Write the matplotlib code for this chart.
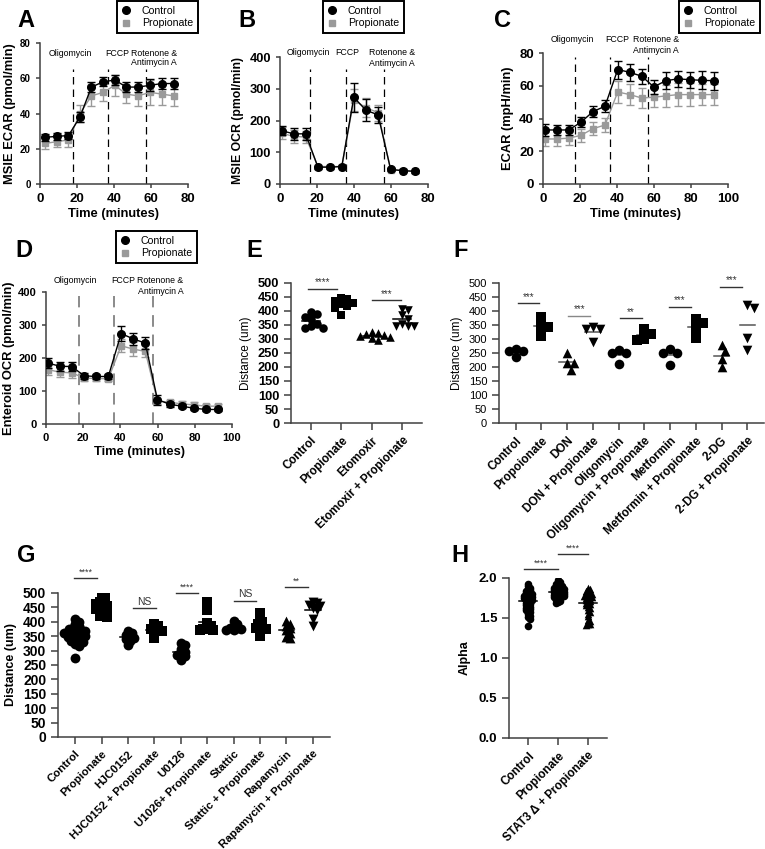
import numpy as np
import matplotlib
matplotlib.use('Agg')
import matplotlib.pyplot as plt
from matplotlib.lines import Line2D

plt.rcParams['font.family'] = ['Liberation Sans', 'DejaVu Sans']

W, H = 765, 849
GRAY = '#9a9a9a'
SPINE = '#404040'

# ---- seahorse time courses ----
time_a = [2.6, 9.0, 15.4, 21.6, 27.8, 34.2, 40.4, 46.7, 53.0, 59.5, 65.9, 72.3]
ecar_a_ctrl = [26.5, 27, 27.5, 38, 55, 58, 59, 55, 55, 56, 57, 57]
ecar_a_ctrl_err = [2, 2, 2, 3, 3, 2.5, 3, 3, 3, 3.5, 3, 3]
ecar_a_prop = [23, 24, 25, 40, 50, 52, 56, 51, 50, 52, 51, 50]
ecar_a_prop_err = [3, 3, 4, 5, 6, 5, 6, 5, 6, 7, 6, 6]

time_b = [1.0, 7.3, 13.9, 20.5, 26.8, 33.4, 39.9, 46.5, 53.0, 59.8, 66.3, 72.8]
ocr_b_ctrl = [168, 158, 158, 53, 53, 55, 273, 232, 218, 46, 42, 40]
ocr_b_ctrl_err = [15, 18, 18, 5, 5, 5, 45, 35, 25, 5, 5, 5]
ocr_b_prop = [160, 150, 148, 55, 55, 55, 265, 240, 225, 45, 42, 40]
ocr_b_prop_err = [18, 20, 20, 5, 5, 5, 35, 30, 25, 5, 5, 5]

time_cd = [0.9, 7.4, 13.9, 20.5, 27.0, 33.5, 40.4, 46.9, 53.4, 59.9, 66.4, 72.9, 79.4, 85.9, 92.4]
ecar_c_ctrl = [33, 33, 33, 37.7, 44.2, 47.5, 69.9, 68.2, 65.8, 59.3, 63.1, 64.2, 63.7, 63.3, 63.1]
ecar_c_ctrl_err = [3.5, 3, 3, 3, 3.5, 3.5, 5.5, 5, 4.5, 4.5, 5, 5, 5, 5.5, 5.5]
ecar_c_prop = [27.5, 27.5, 28, 29.7, 33.8, 36, 56.2, 54.6, 52.5, 53, 53.8, 54.6, 54.6, 54.6, 54.6]
ecar_c_prop_err = [4, 4, 4, 4, 4, 4.5, 7, 6.5, 6, 6, 6.5, 7, 7, 6.5, 6.5]

ocr_d_ctrl = [185, 175, 174, 146, 144, 144, 274, 258, 245, 74, 60, 54, 48, 44, 44]
ocr_d_ctrl_err = [15, 13, 13, 10, 8, 8, 22, 18, 18, 15, 8, 6, 5, 5, 5]
ocr_d_prop = [165, 157, 155, 139, 138, 137, 237, 227, 220, 70, 66, 61, 58, 54, 54]
ocr_d_prop_err = [15, 15, 15, 8, 8, 8, 20, 20, 18, 10, 8, 8, 8, 8, 8]

# ---- E: etomoxir ----
e_labels = ['Control', 'Propionate', 'Etomoxir', 'Etomoxir + Propionate']
e_control = [395, 390, 378, 370, 355, 345, 340, 340]
e_propionate = [448, 442, 435, 428, 425, 418, 412, 385]
e_etomoxir = [325, 322, 318, 316, 312, 308, 303, 295]
e_eto_prop = [408, 405, 385, 373, 352, 348, 345, 345]

# ---- F: metabolic inhibitors ----
f_labels = ['Control', 'Propoionate', 'DON', 'DON + Propionate', 'Oligomycin',
            'Oligomycin + Propionate', 'Metformin', 'Metformin + Propionate',
            '2-DG', '2-DG + Propionate']
f_control = [263, 257, 257, 237]
f_propionate = [378, 348, 342, 312]
f_don = [251, 215, 215, 191]
f_don_prop = [342, 335, 335, 288]
f_oligo = [261, 249, 249, 209]
f_oligo_prop = [335, 318, 300, 298]
f_metformin = [263, 249, 249, 207]
f_metformin_prop = [372, 356, 338, 303]
f_2dg = [279, 257, 227, 201]
f_2dg_prop = [422, 410, 303, 261]

# ---- G: signalling inhibitors ----
g_labels = ['Control', 'Propionate', 'HJC0152', 'HJC0152 + Propionate', 'U0126',
            'U1026+ Propionate', 'Stattic', 'Stattic + Propionate', 'Rapamycin',
            'Rapamycin + Propionate']
g_control = [410, 400, 392, 385, 380, 375, 372, 370, 368, 365, 362, 360,
             358, 355, 352, 350, 347, 343, 340, 335, 330, 322, 315, 275]
g_propionate = [498, 490, 480, 472, 468, 462, 458, 455, 450, 445, 440, 435,
                430, 425, 420, 415]
g_hjc = [368, 362, 355, 350, 345, 340, 332, 318]
g_hjc_prop = [392, 385, 378, 375, 370, 368, 360, 345]
g_u0126 = [328, 318, 305, 295, 290, 285, 280, 268]
g_u0126_prop = [468, 440, 395, 385, 380, 375, 372, 370]
g_stattic = [402, 392, 385, 380, 378, 375, 372, 370]
g_stattic_prop = [430, 412, 400, 392, 385, 380, 375, 350]
g_rapa = [402, 392, 385, 378, 370, 360, 348, 345]
g_rapa_prop = [468, 465, 460, 455, 448, 440, 410, 385]

# ---- H: alpha ----
h_labels = ['Control', 'Propionate', 'STAT3 \u0394 + Propionate']
h_control = [1.93, 1.90, 1.88, 1.86, 1.85, 1.84, 1.83, 1.82, 1.81, 1.80, 1.80,
             1.79, 1.78, 1.78, 1.77, 1.76, 1.76, 1.75, 1.75, 1.74, 1.73, 1.73,
             1.72, 1.71, 1.70, 1.69, 1.68, 1.67, 1.66, 1.65, 1.64, 1.63, 1.62,
             1.61, 1.60, 1.58, 1.57, 1.55, 1.53, 1.51, 1.49, 1.40]
h_propionate = [1.97, 1.95, 1.94, 1.93, 1.92, 1.91, 1.90, 1.90, 1.89, 1.88,
                1.88, 1.87, 1.87, 1.86, 1.86, 1.85, 1.85, 1.84, 1.84, 1.83,
                1.83, 1.82, 1.82, 1.81, 1.81, 1.80, 1.80, 1.79, 1.79, 1.78,
                1.78, 1.77, 1.77, 1.76, 1.76, 1.75, 1.74, 1.73, 1.72, 1.71,
                1.70, 1.69]
h_stat3 = [1.88, 1.86, 1.85, 1.84, 1.83, 1.82, 1.81, 1.80, 1.80, 1.79, 1.78,
           1.78, 1.77, 1.76, 1.76, 1.75, 1.74, 1.73, 1.72, 1.71, 1.70, 1.69,
           1.68, 1.67, 1.66, 1.64, 1.62, 1.60, 1.58, 1.55, 1.52, 1.48, 1.46,
           1.45, 1.43, 1.42, 1.41]


def add_axes(fig, left, top, right, bottom):
    return fig.add_axes([left / W, 1 - bottom / H, (right - left) / W, (bottom - top) / H])


def clean(ax, ylabel_size=7, xlabel_size=9.5):
    for s in ['top', 'right']:
        ax.spines[s].set_visible(False)
    for s in ['left', 'bottom']:
        ax.spines[s].set_linewidth(1.1)
        ax.spines[s].set_color(SPINE)
    ax.tick_params(colors=SPINE, width=1.1, length=3, direction='out')
    for lab in ax.get_yticklabels():
        lab.set_fontweight('bold')
        lab.set_fontsize(ylabel_size)
        lab.set_color('black')
    for lab in ax.get_xticklabels():
        lab.set_fontweight('bold')
        lab.set_fontsize(xlabel_size)
        lab.set_color('black')


def seahorse(ax, t, ctrl, ctrl_err, prop, prop_err, drugs, line_top, texts,
             line_color='black', line_w=0.9):
    ax.vlines(drugs, 0, line_top, colors=line_color, linestyles=(0, (6, 4)), lw=line_w, zorder=1)
    ax.errorbar(t, prop, yerr=prop_err, color=GRAY, marker='s', ms=5, lw=1,
                capsize=3, elinewidth=1, capthick=1, zorder=2)
    ax.errorbar(t, ctrl, yerr=ctrl_err, color='black', marker='o', ms=5.5, lw=1,
                capsize=3, elinewidth=1, capthick=1, zorder=3)
    for x, y, s in texts:
        ax.text(x, y, s, fontsize=6.3, ha='center', va='center', clip_on=False)


def legend(fig, x, y):
    handles = [Line2D([], [], color='black', marker='o', ls='none', ms=5.5),
               Line2D([], [], color=GRAY, marker='s', ls='none', ms=5)]
    leg = fig.legend(handles, ['Control', 'Propionate'], loc='upper left',
                     bbox_to_anchor=(x / W, 1 - y / H), fontsize=7.6, frameon=True,
                     fancybox=False, edgecolor='black', framealpha=1,
                     borderpad=0.45, handlelength=0.8, handletextpad=1.1,
                     labelspacing=0.25, borderaxespad=0)
    leg.get_frame().set_linewidth(1.4)


def swarm(ax, values, gap_px):
    p0 = ax.transData.transform((0, 0))
    sx = ax.transData.transform((1, 0))[0] - p0[0]
    sy = ax.transData.transform((0, 1))[1] - p0[1]
    ypx = np.asarray(values, dtype=float) * sy
    offs = np.zeros(len(ypx))
    placed = []
    cands = [0.0]
    for k in range(1, 60):
        cands += [k * gap_px * 0.5, -k * gap_px * 0.5]
    for i in np.argsort(-ypx):
        for c in cands:
            if all((c - px) ** 2 + (ypx[i] - py) ** 2 >= gap_px ** 2 for px, py in placed):
                break
        placed.append((c, ypx[i]))
        offs[i] = c / sx
    return offs


def dots(ax, groups, markers, size, gap_px, mean_color='black'):
    for i, (vals, m) in enumerate(zip(groups, markers)):
        x = i + swarm(ax, vals, gap_px)
        ax.scatter(x, vals, marker=m, s=size, color='black', lw=0, zorder=3)
        mu = np.mean(vals)
        ax.plot([i - 0.3, i + 0.3], [mu, mu], color=mean_color, lw=1.1, zorder=2)


def sig(ax, x0, x1, y, s, fs=7, color='#333333'):
    ax.plot([x0, x1], [y, y], color=color, lw=1, clip_on=False)
    ax.annotate(s, ((x0 + x1) / 2, y), xytext=(0, 1), textcoords='offset points',
                ha='center', va='bottom', fontsize=fs, color='#333333',
                annotation_clip=False)


def category_axes(ax, labels, ylim, yticks, label_size, fmt=None):
    n = len(labels)
    ax.set_xlim(-0.65, n - 0.35)
    ax.set_ylim(*ylim)
    ax.set_yticks(yticks)
    if fmt:
        ax.set_yticklabels([fmt % v for v in yticks])
    ax.set_xticks(range(n))
    ax.set_xticklabels(labels, rotation=45, ha='right', rotation_mode='anchor')
    clean(ax, ylabel_size=label_size, xlabel_size=label_size)
    ax.tick_params(length=5)


fig = plt.figure(figsize=(W / 100, H / 100), dpi=100)

# A
ax = add_axes(fig, 40, 43, 188, 184)
seahorse(ax, time_a, ecar_a_ctrl, ecar_a_ctrl_err, ecar_a_prop, ecar_a_prop_err,
         [17.7, 37, 57.2], 65,
         [(16.2, 74.3, 'Oligomycin'), (42, 74.3, 'FCCP'),
          (61.8, 74.3, 'Rotenone &'), (61.8, 68.7, 'Antimycin A')])
ax.set_xlim(0, 80)
ax.set_ylim(0, 80)
ax.set_xticks([0, 20, 40, 60, 80])
ax.set_yticks([0, 20, 40, 60, 80])
ax.set_ylabel('MSIE ECAR (pmol/min)', fontsize=9.3, fontweight='bold', labelpad=3)
ax.set_xlabel('Time (minutes)', fontsize=9.3, fontweight='bold', labelpad=2)
clean(ax, 7, 9.5)
legend(fig, 117, 1)

# B
ax = add_axes(fig, 280, 57, 428, 184)
seahorse(ax, time_b, ocr_b_ctrl, ocr_b_ctrl_err, ocr_b_prop, ocr_b_prop_err,
         [16.4, 35.8, 56], 363,
         [(15.3, 415, 'Oligomycin'), (36.1, 415, 'FCCP'),
          (60.5, 415, 'Rotenone &'), (60.5, 379, 'Antimycin A')])
ax.set_xlim(0, 80)
ax.set_ylim(0, 400)
ax.set_xticks([0, 20, 40, 60, 80])
ax.set_yticks([0, 100, 200, 300, 400])
ax.set_ylabel('MSIE OCR (pmol/min)', fontsize=8.8, fontweight='bold', labelpad=4)
ax.set_xlabel('Time (minutes)', fontsize=9.3, fontweight='bold', labelpad=2)
clean(ax, 9.3, 9.5)
legend(fig, 323, 1)

# C
ax = add_axes(fig, 543, 53, 728, 184)
seahorse(ax, time_cd, ecar_c_ctrl, ecar_c_ctrl_err, ecar_c_prop, ecar_c_prop_err,
         [17.1, 36, 56.6], 77.6,
         [(15.7, 88.2, 'Oligomycin'), (40, 88.2, 'FCCP'),
          (61.1, 88.2, 'Rotenone &'), (61.1, 81.7, 'Antimycin A')])
ax.set_xlim(0, 100)
ax.set_ylim(0, 80)
ax.set_xticks([0, 20, 40, 60, 80, 100])
ax.set_yticks([0, 20, 40, 60, 80])
ax.set_ylabel('ECAR (mpH/min)', fontsize=9.3, fontweight='bold', labelpad=4)
ax.set_xlabel('Time (minutes)', fontsize=9.3, fontweight='bold', labelpad=2)
clean(ax, 9.5, 9.5)
legend(fig, 679, 1)

# D
ax = add_axes(fig, 46, 292, 232, 424)
seahorse(ax, time_cd, ocr_d_ctrl, ocr_d_ctrl_err, ocr_d_prop, ocr_d_prop_err,
         [17.6, 36.4, 57.3], 387,
         [(15.8, 435, 'Oligomycin'), (41.4, 435, 'FCCP'),
          (61.5, 435, 'Rotenone &'), (61.5, 402, 'Antimycin A')],
         line_color='#8a8a8a', line_w=1.4)
ax.set_xlim(0, 100)
ax.set_ylim(0, 400)
ax.set_xticks([0, 20, 40, 60, 80, 100])
ax.set_yticks([0, 100, 200, 300, 400])
ax.set_ylabel('Enteroid OCR (pmol/min)', fontsize=9.3, fontweight='bold', labelpad=2)
ax.set_xlabel('Time (minutes)', fontsize=9.3, fontweight='bold', labelpad=2)
clean(ax, 8, 8)
legend(fig, 116, 231)

# E
ax = add_axes(fig, 291, 283, 422, 423)
category_axes(ax, e_labels, (0, 500), range(0, 501, 50), 9.3)
for lab in ax.get_xticklabels():
    lab.set_fontsize(8.4)
dots(ax, [e_control, e_propionate, e_etomoxir, e_eto_prop], ['o', 's', '^', 'v'], 38, 6)
ax.set_ylabel('Distance (um)', fontsize=8.5, labelpad=4)
sig(ax, -0.1, 0.85, 480, '****', 7)
sig(ax, 2.0, 2.97, 438, '***', 7)

# F
ax = add_axes(fig, 499, 283, 764, 423)
category_axes(ax, f_labels, (0, 500), range(0, 501, 50), 8.5)
for lab in ax.get_yticklabels():
    lab.set_fontweight('normal')
    lab.set_fontsize(8)
dots(ax, [f_control, f_propionate, f_don, f_don_prop, f_oligo, f_oligo_prop,
          f_metformin, f_metformin_prop, f_2dg, f_2dg_prop],
     ['o', 's', '^', 'v', 'o', 's', 'o', 's', '^', 'v'], 48, 7, mean_color='#555555')
ax.set_ylabel('Distance (um)', fontsize=8.5, labelpad=4)
sig(ax, 0.1, 0.9, 428, '***', 7)
sig(ax, 2.05, 2.9, 383, '***', 7, color='#888888')
sig(ax, 4.05, 4.9, 374, '**', 7)
sig(ax, 5.95, 6.8, 416, '***', 7)
sig(ax, 7.95, 8.8, 486, '***', 7)

# G
ax = add_axes(fig, 58, 593, 330, 737)
category_axes(ax, g_labels, (0, 500), range(0, 501, 50), 8.2)
for lab in ax.get_yticklabels():
    lab.set_fontsize(10)
dots(ax, [g_control, g_propionate, g_hjc, g_hjc_prop, g_u0126, g_u0126_prop,
          g_stattic, g_stattic_prop, g_rapa, g_rapa_prop],
     ['o', 's', 'o', 's', 'o', 's', 'o', 's', '^', 'v'], 50, 3.8)
ax.set_ylabel('Distance (um)', fontsize=9, fontweight='bold', labelpad=4)
sig(ax, -0.04, 0.84, 552, '****', 6.5)
sig(ax, 2.2, 3.06, 448, 'NS', 7.5)
sig(ax, 3.8, 4.66, 500, '****', 6.5)
sig(ax, 6.0, 6.86, 473, 'NS', 7.5)
sig(ax, 7.95, 8.8, 520, '**', 6.5)

# H
ax = add_axes(fig, 509, 578, 607, 738)
category_axes(ax, h_labels, (0, 2.0), [0, 0.5, 1.0, 1.5, 2.0], 8.5, fmt='%.1f')
for lab in ax.get_yticklabels():
    lab.set_fontsize(9.5)
dots(ax, [h_control, h_propionate, h_stat3], ['o', 'o', '^'], 30, 2.0)
ax.set_ylabel('Alpha', fontsize=9, fontweight='bold', labelpad=6)
sig(ax, -0.15, 1.0, 2.11, '****', 6.5)
sig(ax, 1.0, 2.0, 2.30, '****', 6.5)

# panel letters
for letter, x, y in [('A', 17, 9), ('B', 238, 9), ('C', 494, 9), ('D', 15, 239),
                     ('E', 246, 239), ('F', 453, 239), ('G', 17, 544), ('H', 451, 544)]:
    fig.text(x / W, 1 - y / H, letter, fontsize=17, fontweight='bold', va='top', ha='left')

fig.savefig('out.png', dpi=100)
